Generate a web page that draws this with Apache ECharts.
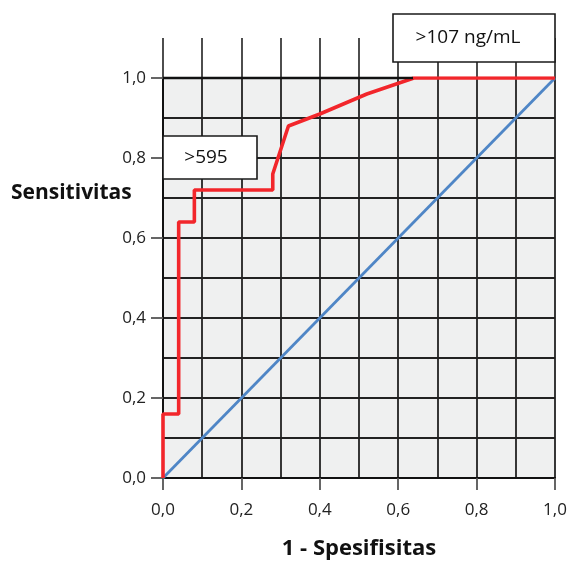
<!DOCTYPE html>
<html><head><meta charset="utf-8">
<script src="https://cdn.jsdelivr.net/npm/echarts@6/dist/echarts.min.js"></script>
<style>html,body{margin:0;padding:0;background:#fff}#c{width:573px;height:563px}</style>
</head><body><div id="c"></div>
<script>
const rocX = [0, 0, 0.04, 0.04, 0.08, 0.08, 0.28, 0.28, 0.32, 0.40, 0.52, 0.64, 1.0];
const rocY = [0, 0.16, 0.16, 0.64, 0.64, 0.72, 0.72, 0.76, 0.88, 0.91, 0.96, 1.0, 1.0];
const refX = [0, 1];
const refY = [0, 1];
const tickLabels = ['0,0', '0,2', '0,4', '0,6', '0,8', '1,0'];
const xTitle = '1 - Spesifisitas';
const yTitle = 'Sensitivitas';
const notes = ['>595', '>107 ng/mL'];

const fmt = v => tickLabels[Math.round(v * 5)] || '';
const FONT = 'Open Sans';
const chart = echarts.init(document.getElementById('c'), null, {renderer: 'canvas'});
chart.setOption({
  animation: false,
  grid: [
    {left: 163, right: 18, top: 78, bottom: 85, show: true, backgroundColor: '#eff0f0', borderWidth: 0, containLabel: false, outerBoundsMode: 'none'},
    {left: 163, right: 18, top: 38, height: 40, containLabel: false, outerBoundsMode: 'none'}
  ],
  xAxis: [
    {gridIndex: 0, type: 'value', min: 0, max: 1, interval: 0.1,
     axisLine: {show: false}, axisTick: {show: false}, axisLabel: {show: false},
     splitLine: {show: true, lineStyle: {color: '#222', width: 1.8}}},
    {gridIndex: 0, type: 'value', min: 0, max: 1, interval: 0.2, position: 'bottom',
     axisLine: {show: true, onZero: false, lineStyle: {color: '#111', width: 2}},
     axisTick: {show: true, length: 12, lineStyle: {color: '#555', width: 1.8}},
     axisLabel: {show: true, margin: 24, fontFamily: FONT, fontSize: 17, color: '#222', formatter: fmt},
     splitLine: {show: false},
     name: xTitle, nameLocation: 'middle', nameGap: 60,
     nameTextStyle: {fontFamily: FONT, fontWeight: 'bold', fontSize: 22, color: '#111'}},
    {gridIndex: 1, type: 'value', min: 0, max: 1, interval: 0.1,
     axisLine: {show: false}, axisTick: {show: false}, axisLabel: {show: false},
     splitLine: {show: true, lineStyle: {color: '#3a3a3a', width: 1.8}}}
  ],
  yAxis: [
    {gridIndex: 0, type: 'value', min: 0, max: 1, interval: 0.1,
     axisLine: {show: false}, axisTick: {show: false}, axisLabel: {show: false},
     splitLine: {show: true, lineStyle: {color: '#222', width: 1.8}}},
    {gridIndex: 0, type: 'value', min: 0, max: 1, interval: 0.2, position: 'left',
     axisLine: {show: true, onZero: false, lineStyle: {color: '#111', width: 2}},
     axisTick: {show: true, length: 12, lineStyle: {color: '#555', width: 1.8}},
     axisLabel: {show: true, margin: 17, fontFamily: FONT, fontSize: 17, color: '#222', formatter: fmt},
     splitLine: {show: false}},
    {gridIndex: 1, type: 'value', min: 0, max: 1, show: false}
  ],
  series: [
    {type: 'line', xAxisIndex: 0, yAxisIndex: 0, data: refX.map((x, i) => [x, refY[i]]),
     symbol: 'none', lineStyle: {color: '#4f86c6', width: 2.8}, z: 3},
    {type: 'line', xAxisIndex: 0, yAxisIndex: 0, data: rocX.map((x, i) => [x, rocY[i]]),
     symbol: 'none', lineStyle: {color: '#f2262b', width: 3.6}, z: 4},
    {type: 'line', xAxisIndex: 2, yAxisIndex: 2, data: [], symbol: 'none'}
  ],
  graphic: {
    elements: [
      {type: 'line', z: 50, shape: {x1: 163, y1: 78, x2: 413, y2: 78}, style: {stroke: '#111', lineWidth: 2.4}},
      {type: 'rect', z: 60, x: 163, y: 136, shape: {x: 0, y: 0, width: 94, height: 43}, style: {fill: '#fff', stroke: '#1a1a1a', lineWidth: 1.6}},
      {type: 'text', z: 61, x: 206, y: 158, style: {text: notes[0], font: '19px "Open Sans"', fill: '#111', align: 'center', verticalAlign: 'middle'}},
      {type: 'rect', z: 60, x: 393, y: 14, shape: {x: 0, y: 0, width: 162, height: 48}, style: {fill: '#fff', stroke: '#1a1a1a', lineWidth: 1.6}},
      {type: 'text', z: 61, x: 468, y: 38, style: {text: notes[1], font: '19px "Open Sans"', fill: '#111', align: 'center', verticalAlign: 'middle'}},
      {type: 'text', z: 61, x: 11, y: 193, style: {text: yTitle, font: 'bold 21px "Open Sans"', fill: '#111', verticalAlign: 'middle'}}
    ]
  }
});
</script></body></html>
